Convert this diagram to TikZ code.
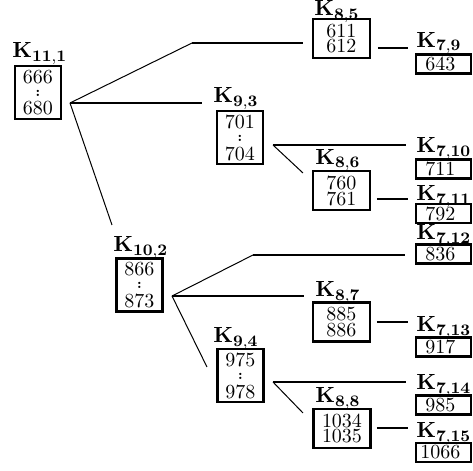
\documentclass[tikz,border=0pt]{standalone}
\usepackage{amsmath}
\begin{document}
\begin{tikzpicture}[x=0.5pt,y=-0.5pt,
  box/.style={draw,line width=1.1pt,inner sep=0pt},
  tri/.style={box,minimum width=23pt,minimum height=26.5pt},
  duo/.style={box,minimum width=28.5pt,minimum height=19.5pt},
  uno/.style={box,minimum width=27.5pt,minimum height=9.5pt},
  lab/.style={anchor=base west,inner sep=0pt,font=\fontsize{11}{13}\selectfont},
  cthin/.style={line width=0.5pt},
  cmid/.style={line width=0.9pt},
  cthick/.style={line width=1.3pt}]
\newcommand\trib[2]{\vbox{\offinterlineskip\halign{\hfil##\hfil\cr#1\cr\noalign{\kern3.3pt}\scriptsize\bfseries :\cr\noalign{\kern2.6pt}#2\cr}}}
\newcommand\duob[2]{\vbox{\offinterlineskip\halign{\hfil##\hfil\cr#1\cr\noalign{\kern1pt}#2\cr}}}
\newcommand\lk[1]{$\mathbf{K}_{\mathbf{#1}}$}
\useasboundingbox (0,0) rectangle (473,471);
% boxes
\node[tri] (b111) at (38,92.5) {\trib{666}{680}};
\node[tri] (b93) at (240,137.5) {\trib{701}{704}};
\node[tri] (b102) at (139.5,285) {\trib{866}{873}};
\node[tri] (b94) at (240.5,375.5) {\trib{975}{978}};
\node[duo] (b85) at (341.5,38.5) {\duob{611}{612}};
\node[duo] (b86) at (341.5,190.5) {\duob{760}{761}};
\node[duo] (b87) at (341.5,322) {\duob{885}{886}};
\node[duo] (b88) at (342,428.5) {\duob{1034}{1035}};
\node[uno] (b79) at (443.5,64) {643\kern3pt};
\node[uno] (b710) at (443.5,169) {711\kern3pt};
\node[uno] (b711) at (443.5,213.5) {792\kern3pt};
\node[uno] (b712) at (443.5,254) {836\kern3pt};
\node[uno] (b713) at (443.5,347) {917\kern3pt};
\node[uno] (b714) at (443.5,405) {985\kern3pt};
\node[uno] (b715) at (443.5,452.5) {1066\kern3pt};
% labels
\node[lab] (l111) at (12,58) {\lk{11,1}};
\node[lab] (l93) at (213,103) {\lk{9,3}};
\node[lab] (l102) at (113,252) {\lk{10,2}};
\node[lab] (l94) at (213,343) {\lk{9,4}};
\node[lab] (l85) at (314,16) {\lk{8,5}};
\node[lab] (l86) at (315,164) {\lk{8,6}};
\node[lab] (l87) at (315,297) {\lk{8,7}};
\node[lab] (l88) at (315,403) {\lk{8,8}};
\node[lab] (l79) at (416,47) {\lk{7,9}};
\node[lab] (l710) at (416,153) {\lk{7,10}};
\node[lab] (l711) at (416,201) {\lk{7,11}};
\node[lab] (l712) at (416,240) {\lk{7,12}};
\node[lab] (l713) at (416,332) {\lk{7,13}};
\node[lab] (l714) at (416,390) {\lk{7,14}};
\node[lab] (l715) at (416,438) {\lk{7,15}};
% connector points
\coordinate (f111) at (70,103);
\coordinate (k1) at (192,43);
\coordinate (e85) at (303,43);
\coordinate (e93) at (202,103);
\coordinate (e102) at (112,225);
\coordinate (s85) at (378,48);
\coordinate (e79) at (408,48);
\coordinate (f93) at (273,145);
\coordinate (e710) at (406,145);
\coordinate (e86) at (303,173);
\coordinate (s86) at (377,199);
\coordinate (e711) at (408,199);
\coordinate (f102) at (172,296);
\coordinate (k2) at (253,255);
\coordinate (e712) at (405,255);
\coordinate (e87) at (304,296);
\coordinate (e94) at (207,367);
\coordinate (s87) at (377,322);
\coordinate (e713) at (408,322);
\coordinate (f94) at (273,382);
\coordinate (e714) at (406,382);
\coordinate (e88) at (303,413);
\coordinate (s88) at (377,428);
\coordinate (e715) at (408,428);
% connectors
\draw[cthin] (f111) -- (k1);
\draw[cmid] (k1) -- (e85);
\draw[cmid] (f111) -- (e93);
\draw[cthin] (f111) -- (e102);
\draw[cmid] (s85) -- (e79);
\draw[cthick] (f93) -- (e710);
\draw[cthin] (f93) -- (e86);
\draw[cmid] (s86) -- (e711);
\draw[cthin] (f102) -- (k2);
\draw[cmid] (k2) -- (e712);
\draw[cthick] (f102) -- (e87);
\draw[cthin] (f102) -- (e94);
\draw[cmid] (s87) -- (e713);
\draw[cthick] (f94) -- (e714);
\draw[cthin] (f94) -- (e88);
\draw[cmid] (s88) -- (e715);
\end{tikzpicture}
\end{document}
